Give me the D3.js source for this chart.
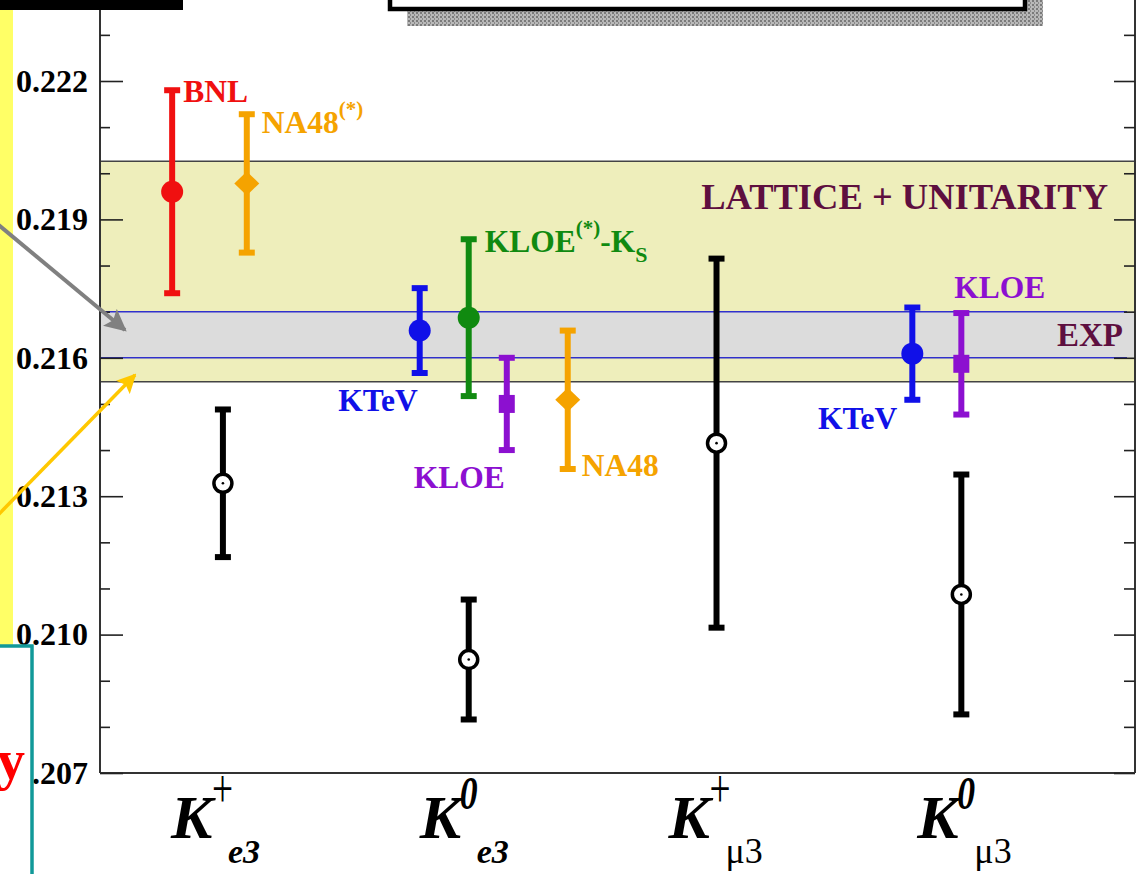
<!DOCTYPE html>
<html>
<head>
<meta charset="utf-8">
<script src="https://cdn.jsdelivr.net/npm/d3@7"></script>
<style>
body{margin:0;background:#fff;}
svg{display:block;font-family:"Liberation Serif","Times New Roman",serif;}
</style>
</head>
<body>
<svg id="chart"></svg>
<script>
// categories on the x axis
var catPos = [1, 2, 3, 4];
var catSup = ["+", "0", "+", "0"];
var catSub = ["e3", "e3", "\u03bc3", "\u03bc3"];

// experimental measurements (coloured points)
var expNames = ["BNL", "NA48", "KTeV", "KLOE", "KLOE", "NA48", "KTeV", "KLOE"];
var expPos   = [0.82, 1.12, 1.815, 2.012, 2.165, 2.41, 3.795, 3.992];
var expValue = [0.2196, 0.21978, 0.21659, 0.21687, 0.2150, 0.21509, 0.21609, 0.21587];
var expErr   = [0.0022, 0.0015, 0.00092, 0.0017, 0.0010, 0.0015, 0.0010, 0.0011];
var expShape = ["circle", "diamond", "circle", "circle", "square", "diamond", "circle", "square"];

// black open points
var predPos   = [1.024, 2.012, 3.008, 3.992];
var predValue = [0.21328, 0.20946, 0.21415, 0.21087];
var predErr   = [0.0016, 0.0013, 0.0040, 0.0026];

// horizontal bands
var latticeBand = [0.21548, 0.22026];
var expBand = [0.2160, 0.2170];

// y ticks
var majorTicks = [0.207, 0.210, 0.213, 0.216, 0.219, 0.222];
var minorTicks = [0.208, 0.209, 0.211, 0.212, 0.214, 0.215, 0.217, 0.218, 0.220, 0.221, 0.223];

// colours per experiment
var colors = {BNL:"#f01010", NA48:"#f5a300", KTeV:"#1010e8", KLOE:"#8c10d0", KS:"#108a10"};
var expColor = [colors.BNL, colors.NA48, colors.KTeV, colors.KS, colors.KLOE, colors.NA48, colors.KTeV, colors.KLOE];

var screen = {width:1142, height:874};
var plot = {left:100, right:1135, bottom:773, top:0};

var svg = d3.select("#chart")
    .attr("width", screen.width)
    .attr("height", screen.height);

svg.append("rect").attr("width", screen.width).attr("height", screen.height).attr("fill", "#fff");

var xScale = d3.scaleLinear().domain([0.53, 4.69]).range([plot.left, plot.right]);
var yScale = d3.scaleLinear().domain([0.207, 0.222]).range([plot.bottom, 81]);

var defs = svg.append("defs");
// stippled shadow
var pat = defs.append("pattern").attr("id", "stipple")
    .attr("width", 4).attr("height", 4).attr("patternUnits", "userSpaceOnUse");
pat.append("rect").attr("width", 4).attr("height", 4).attr("fill", "#b8b8b8");
pat.append("rect").attr("width", 2).attr("height", 2).attr("fill", "#7a7a7a");
pat.append("rect").attr("x", 2).attr("y", 2).attr("width", 1).attr("height", 2).attr("fill", "#8a8a8a");

// arrow heads
[["gray", "#808080"], ["gold", "#ffc800"]].forEach(function(a)
{
    defs.append("marker").attr("id", "head-" + a[0])
        .attr("viewBox", "0 0 10 10").attr("refX", 9).attr("refY", 5)
        .attr("markerWidth", 5.5).attr("markerHeight", 5.5)
        .attr("markerUnits", "strokeWidth")
        .attr("orient", "auto")
        .append("path").attr("d", "M0,0 L10,5 L0,10 L2,5 z").attr("fill", a[1]);
});

// top box with shadow
svg.append("rect").attr("x", 407).attr("y", 0).attr("width", 636).attr("height", 26).attr("fill", "url(#stipple)");
svg.append("rect").attr("x", 390).attr("y", -10).attr("width", 635).attr("height", 19)
    .attr("fill", "#fff").attr("stroke", "#000").attr("stroke-width", 4.5);

// bands
var bands = svg.append("g");
bands.append("rect")
    .attr("x", plot.left).attr("width", plot.right - plot.left)
    .attr("y", yScale(latticeBand[1]))
    .attr("height", yScale(latticeBand[0]) - yScale(latticeBand[1]))
    .attr("fill", "#eeeebb");
bands.selectAll(".lline").data(latticeBand).enter().append("line")
    .attr("x1", plot.left).attr("x2", plot.right)
    .attr("y1", function(d){ return yScale(d); })
    .attr("y2", function(d){ return yScale(d); })
    .attr("stroke", "#444").attr("stroke-width", 1.5);
bands.append("rect")
    .attr("x", plot.left).attr("width", plot.right - plot.left)
    .attr("y", yScale(expBand[1]))
    .attr("height", yScale(expBand[0]) - yScale(expBand[1]))
    .attr("fill", "#dcdcdc");
bands.selectAll(".eline").data(expBand).enter().append("line")
    .attr("x1", plot.left).attr("x2", plot.right - 8)
    .attr("y1", function(d){ return yScale(d); })
    .attr("y2", function(d){ return yScale(d); })
    .attr("stroke", "#3030cc").attr("stroke-width", 1.5);

bands.append("text")
    .attr("x", 1108).attr("y", yScale(latticeBand[1]) + 48)
    .attr("text-anchor", "end").attr("font-size", 36.5).attr("font-weight", "bold")
    .attr("fill", "#5e0f3f").text("LATTICE + UNITARITY");
bands.append("text")
    .attr("x", 1123).attr("y", yScale(expBand[0]) - 12)
    .attr("text-anchor", "end").attr("font-size", 33).attr("font-weight", "bold")
    .attr("fill", "#5e0f3f").text("EXP");

// frame
var frame = svg.append("g").attr("stroke", "#333").attr("stroke-width", 2);
frame.append("line").attr("x1", plot.left).attr("x2", plot.left).attr("y1", plot.top).attr("y2", plot.bottom);
frame.append("line").attr("x1", plot.right).attr("x2", plot.right).attr("y1", plot.top).attr("y2", plot.bottom);
frame.append("line").attr("x1", plot.left).attr("x2", plot.right).attr("y1", plot.bottom).attr("y2", plot.bottom);

// axes
var addAxis = function(axis, x)
{
    var g = svg.append("g").attr("transform", "translate(" + x + ",0)").call(axis);
    g.select(".domain").remove();
    g.selectAll(".tick line").attr("stroke", "#222").attr("stroke-width", 1.6);
    return g;
};
var leftMajor = addAxis(d3.axisLeft(yScale).tickValues(majorTicks)
    .tickSizeInner(-23).tickSizeOuter(0).tickPadding(12)
    .tickFormat(d3.format(".3f")), plot.left);
leftMajor.selectAll("text")
    .attr("font-family", "'Liberation Serif','Times New Roman',serif")
    .attr("font-size", 32).attr("font-weight", "bold").attr("fill", "#000");
addAxis(d3.axisLeft(yScale).tickValues(minorTicks).tickSize(-10).tickFormat(""), plot.left);
addAxis(d3.axisRight(yScale).tickValues(majorTicks).tickSize(-21).tickFormat(""), plot.right);
addAxis(d3.axisRight(yScale).tickValues(minorTicks).tickSize(-11).tickFormat(""), plot.right);

// error bars
var drawErrorBar = function(g, x, v, e, color)
{
    var top = yScale(v + e), bot = yScale(v - e);
    g.append("line").attr("x1", x).attr("x2", x).attr("y1", top).attr("y2", bot)
        .attr("stroke", color).attr("stroke-width", 6);
    [top, bot].forEach(function(y)
    {
        g.append("line").attr("x1", x - 8).attr("x2", x + 8).attr("y1", y).attr("y2", y)
            .attr("stroke", color).attr("stroke-width", 6);
    });
};

var points = svg.append("g");
predPos.forEach(function(p, i)
{
    var x = xScale(p), y = yScale(predValue[i]);
    drawErrorBar(points, x, predValue[i], predErr[i], "#000");
    points.append("circle").attr("cx", x).attr("cy", y).attr("r", 9)
        .attr("fill", "#fff").attr("stroke", "#000").attr("stroke-width", 3.5);
    points.append("circle").attr("cx", x).attr("cy", y).attr("r", 1.3).attr("fill", "#000");
});

expPos.forEach(function(p, i)
{
    var x = xScale(p), y = yScale(expValue[i]), c = expColor[i];
    drawErrorBar(points, x, expValue[i], expErr[i], c);
    if (expShape[i] == "circle")
    {
        points.append("circle").attr("cx", x).attr("cy", y).attr("r", 11).attr("fill", c);
    }
    else if (expShape[i] == "diamond")
    {
        points.append("path")
            .attr("d", "M" + x + "," + (y - 12) + " L" + (x + 12.5) + "," + y +
                  " L" + x + "," + (y + 12) + " L" + (x - 12.5) + "," + y + " Z")
            .attr("fill", c);
    }
    else
    {
        points.append("rect").attr("x", x - 8).attr("y", y - 9)
            .attr("width", 16).attr("height", 18).attr("fill", c);
    }
});

// experiment labels: anchor to the top or bottom of each error bar
var labelPlace = [
    {at:"top", dx:11, dy:12, anchor:"start"},
    {at:"top", dx:15, dy:19, anchor:"start", sup:"(*)"},
    {at:"bot", dx:-2, dy:38, anchor:"end"},
    {at:"top", dx:16, dy:13, anchor:"start", sup:"(*)", tail:"-K", sub:"S"},
    {at:"bot", dx:-2, dy:38, anchor:"end"},
    {at:"bot", dx:14, dy:7, anchor:"start"},
    {at:"bot", dx:-15, dy:29, anchor:"end"},
    {at:"top", dx:-7, dy:-15, anchor:"start"}
];
var labels = svg.append("g").attr("font-weight", "bold").attr("font-size", 31.5);
expNames.forEach(function(name, i)
{
    var lp = labelPlace[i];
    var edge = lp.at == "top" ? expValue[i] + expErr[i] : expValue[i] - expErr[i];
    var t = labels.append("text")
        .attr("x", xScale(expPos[i]) + lp.dx)
        .attr("y", yScale(edge) + lp.dy)
        .attr("text-anchor", lp.anchor)
        .attr("fill", expColor[i])
        .text(name);
    if (lp.sup)
    {
        t.append("tspan").attr("font-size", 21)
            .attr("dy", -17).text(lp.sup);
    }
    if (lp.tail)
    {
        t.append("tspan").attr("dy", 17).text(lp.tail);
    }
    if (lp.sub)
    {
        t.append("tspan").attr("font-size", 22).attr("dy", 10).text(lp.sub);
    }
});

// x category labels
var xlab = svg.append("g").attr("fill", "#000");
catPos.forEach(function(p, i)
{
    var kx = xScale(p) - 46;
    xlab.append("text").attr("x", kx).attr("y", 838)
        .attr("font-size", 62).attr("font-weight", "bold").attr("font-style", "italic")
        .text("K");
    var sup = xlab.append("text");
    if (catSup[i] == "+")
    {
        sup.attr("transform", "translate(" + (kx + 41) + ",807) scale(0.85,1.25)")
            .attr("font-size", 44).text("+");
    }
    else
    {
        sup.attr("transform", "translate(" + (kx + 40) + ",809) scale(0.85,1.1)")
            .attr("font-size", 42).attr("font-weight", "bold").attr("font-style", "italic").text("0");
    }
    var sub = xlab.append("text").attr("x", kx + 57).attr("y", 863);
    if (i < 2)
    {
        sub.attr("font-size", 34).attr("font-weight", "bold").attr("font-style", "italic");
    }
    else
    {
        sub.attr("font-size", 36);
    }
    sub.text(catSub[i]);
});

// slide decorations on the left
var deco = svg.append("g");
deco.append("rect").attr("x", 0).attr("y", 9).attr("width", 13).attr("height", 637).attr("fill", "#ffff66");
deco.append("rect").attr("x", 0).attr("y", 0).attr("width", 183).attr("height", 10).attr("fill", "#000");
deco.append("line").attr("x1", -5).attr("y1", 222).attr("x2", 125).attr("y2", 330)
    .attr("stroke", "#808080").attr("stroke-width", 4).attr("marker-end", "url(#head-gray)");
deco.append("line").attr("x1", -2).attr("y1", 515).attr("x2", 135).attr("y2", 375)
    .attr("stroke", "#ffc800").attr("stroke-width", 3.5).attr("marker-end", "url(#head-gold)");
deco.append("rect").attr("x", -5).attr("y", 646).attr("width", 37).attr("height", 240)
    .attr("fill", "#fff").attr("stroke", "#119999").attr("stroke-width", 3.5);
deco.append("text").attr("x", 25).attr("y", 779).attr("text-anchor", "end")
    .attr("font-size", 56).attr("font-weight", "bold").attr("fill", "#ff0000").text("y");
</script>
</body>
</html>
